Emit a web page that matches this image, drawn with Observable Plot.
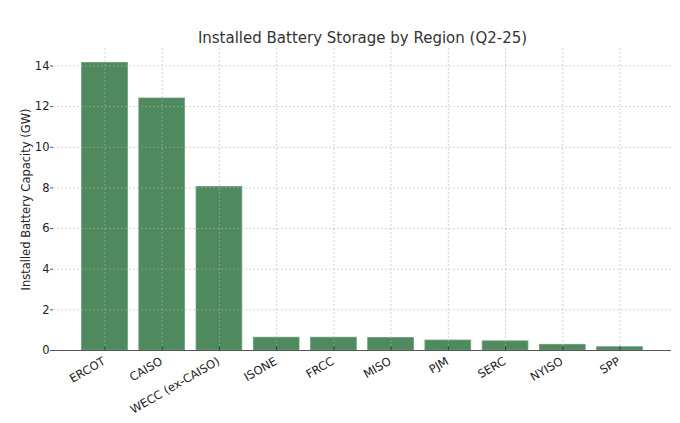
<!DOCTYPE html>
<html>
<head>
<meta charset="utf-8">
<script src="https://cdn.jsdelivr.net/npm/d3@7"></script>
<script src="https://cdn.jsdelivr.net/npm/@observablehq/plot@0.6"></script>
<style>
  html, body { margin: 0; padding: 0; background: #fff; }
  svg { font-family: "DejaVu Sans", sans-serif; }
</style>
</head>
<body>
<div id="chart"></div>
<script>
const regions = ["ERCOT", "CAISO", "WECC (ex-CAISO)", "ISONE", "FRCC", "MISO", "PJM", "SERC", "NYISO", "SPP"];
const capacity = [14.15, 12.4, 8.05, 0.63, 0.63, 0.61, 0.49, 0.45, 0.28, 0.16];
const yTicks = [0, 2, 4, 6, 8, 10, 12, 14];
const title = "Installed Battery Storage by Region (Q2-25)";
const yLabel = "Installed Battery Capacity (GW)";

const data = regions.map((r, i) => ({region: r, value: capacity[i]}));

const chart = Plot.plot({
  width: 680,
  height: 423,
  marginLeft: 53,
  marginRight: 9,
  marginTop: 48,
  marginBottom: 73,
  style: {fontFamily: "DejaVu Sans, sans-serif", fontSize: "11.5px", color: "#333"},
  x: {domain: regions, paddingInner: 0.2, paddingOuter: 0.5, round: false, label: null, axis: null},
  y: {domain: [0, 14.86], ticks: yTicks, label: null, axis: null},
  marks: [
    Plot.barY(data, {x: "region", y: "value", fill: "#4f8a5f", stroke: "#6f9c7b", strokeWidth: 0.8}),
    Plot.gridY(yTicks, {stroke: "#b0b0b0", strokeOpacity: 0.7, strokeDasharray: "2,2", strokeWidth: 0.8}),
    Plot.gridX(regions, {stroke: "#b0b0b0", strokeOpacity: 0.7, strokeDasharray: "2,2", strokeWidth: 0.8}),
    Plot.ruleX(regions, {x: d => d, y1: 0, y2: 0.17, stroke: "#333", strokeWidth: 1}),
    Plot.text(regions, {x: d => d, y: 0, text: d => d, rotate: -30, textAnchor: "end", lineAnchor: "top", dx: -3, dy: 6, fontSize: 11.5, fill: "#222"}),
    Plot.axisY({ticks: yTicks, tickSize: 3, tickPadding: 1, fontSize: 11.5, fill: "#222", stroke: "#555", label: null}),
    Plot.ruleY([0], {stroke: "#555", strokeWidth: 1.2}),
    Plot.ruleX([0], {x: () => 0, stroke: "#555", strokeWidth: 1.2}),
    Plot.text([title], {frameAnchor: "top", lineAnchor: "middle", dy: -10, fontSize: 15, fill: "#333", text: d => d}),
    Plot.text([yLabel], {frameAnchor: "left", textAnchor: "middle", lineAnchor: "middle", dx: -27, rotate: -90, fontSize: 11.5, fill: "#222", text: d => d})
  ]
});
document.getElementById("chart").appendChild(chart);
</script>
</body>
</html>
